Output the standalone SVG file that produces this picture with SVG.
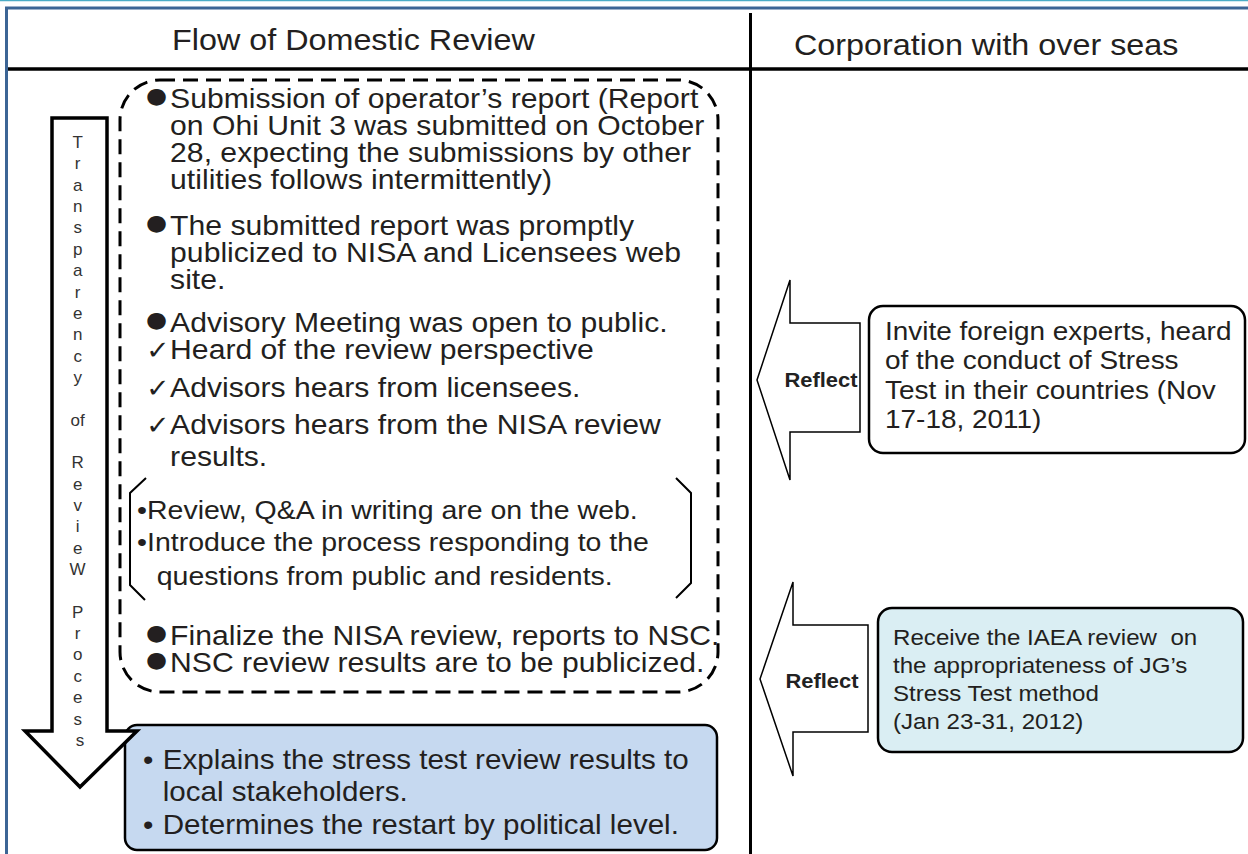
<svg xmlns="http://www.w3.org/2000/svg" width="1248" height="854" viewBox="0 0 1248 854">
<style>
  .t{font-family:"Liberation Sans",Arial,sans-serif;fill:#231f20}
  .dot{font-family:"DejaVu Sans",sans-serif;font-size:22px}
  .chk{font-family:"DejaVu Sans",sans-serif;font-size:26px}
  .hdr{font-size:29.5px}
  .body{font-size:27.5px}
  .bk{font-size:26px}
  .b1{font-size:25.5px}
  .b2{font-size:22px}
  .bot{font-size:27px}
  .vert{font-family:"Liberation Sans",Arial,sans-serif;font-size:17px;text-anchor:middle;fill:#333}
  .refl{font-family:"Liberation Sans",Arial,sans-serif;font-weight:bold;font-size:20px;text-anchor:middle;fill:#222}
  .rule{stroke:#000;stroke-width:3.5;fill:none}
  .dash{fill:none;stroke:#000;stroke-width:3;stroke-dasharray:15 8}
  .blk{fill:#fff;stroke:#000;stroke-width:1.5;stroke-linejoin:miter}
  .box{stroke:#000;stroke-width:2.5}
</style>

<!-- frame -->
<g id="frame">
  <rect x="0" y="0" width="1248" height="854" fill="#fff"/>
  <line x1="0" y1="0.5" x2="1248" y2="0.5" stroke="#4bacc6" stroke-width="1.5"/>
  <path d="M6.5,854 V8 H1248" fill="none" stroke="#3c6595" stroke-width="3"/>
  <line class="rule" x1="8" y1="69" x2="1248" y2="69"/>
  <line x1="750.5" y1="13" x2="750.5" y2="854" stroke="#000" stroke-width="3"/>
</g>

<g id="headers">
  <text class="t hdr" transform="translate(172,50) scale(1.096 1)">Flow of Domestic Review</text>
  <text class="t hdr" transform="translate(794,55) scale(1.096 1)">Corporation with over seas</text>
</g>

<!-- dashed review box -->
<g id="review-box">
  <rect class="dash" x="120" y="80" width="598" height="612" rx="40" ry="40"/>
  <text class="t body" transform="translate(146,108) scale(1.096 1)">
    <tspan class="dot" x="0" y="-5">●</tspan><tspan x="22" y="0">Submission of operator’s report (Report</tspan>
    <tspan x="22" y="27">on Ohi Unit 3 was submitted on October</tspan>
    <tspan x="22" y="54">28, expecting the submissions by other</tspan>
    <tspan x="22" y="81">utilities follows intermittently)</tspan>
  </text>
  <text class="t body" transform="translate(146,235) scale(1.096 1)">
    <tspan class="dot" x="0" y="-5">●</tspan><tspan x="22" y="0">The submitted report was promptly</tspan>
    <tspan x="22" y="27">publicized to NISA and Licensees web</tspan>
    <tspan x="22" y="54">site.</tspan>
  </text>
  <text class="t body" transform="translate(146,332) scale(1.096 1)">
    <tspan class="dot" x="0" y="-5">●</tspan><tspan x="22" y="0">Advisory Meeting was open to public.</tspan>
    <tspan class="chk" x="0" y="27">✓</tspan><tspan x="22" y="27">Heard of the review perspective</tspan>
    <tspan class="chk" x="0" y="65">✓</tspan><tspan x="22" y="65">Advisors hears from licensees.</tspan>
    <tspan class="chk" x="0" y="102">✓</tspan><tspan x="22" y="102">Advisors hears from the NISA review</tspan>
    <tspan x="22" y="134">results.</tspan>
  </text>
  <g id="web-bracket">
    <path d="M146,478 L130,493 V585 L145,600 M676,478 L691,493 V583 L676,598" fill="none" stroke="#000" stroke-width="2"/>
    <text class="t bk" transform="translate(137,519) scale(1.096 1)">
      <tspan x="0" y="0">•Review, Q&amp;A in writing are on the web.</tspan>
      <tspan x="0" y="32">•Introduce the process responding to the</tspan>
      <tspan x="18" y="66">questions from public and residents.</tspan>
    </text>
  </g>
  <text class="t body" transform="translate(146,645) scale(1.096 1)">
    <tspan class="dot" x="0" y="-5">●</tspan><tspan x="22" y="0">Finalize the NISA review, reports to NSC.</tspan>
    <tspan class="dot" x="0" y="22">●</tspan><tspan x="22" y="27">NSC review results are to be publicized.</tspan>
  </text>
</g>

<!-- political level box -->
<g id="political-box">
  <rect class="box" x="125" y="725" width="592" height="125" rx="12" ry="12" fill="#c6d9f0"/>
  <text class="t bot" transform="translate(143,769) scale(1.096 1)">
    <tspan x="0" y="0">•</tspan><tspan x="18" y="0">Explains the stress test review results to</tspan>
    <tspan x="18" y="32">local stakeholders.</tspan>
    <tspan x="0" y="65">•</tspan><tspan x="18" y="65">Determines the restart by political level.</tspan>
  </text>
</g>

<!-- transparency arrow -->
<g id="transparency-arrow">
  <path d="M52,118 H107 V731 H137 L80,787 L25,731 H52 Z" fill="#fff" stroke="#000" stroke-width="3.5" stroke-linejoin="miter"/>
  <text class="vert">
    <tspan x="80" y="148">T</tspan>
    <tspan x="80" y="169.4">r</tspan>
    <tspan x="80" y="190.7">a</tspan>
    <tspan x="80" y="212.1">n</tspan>
    <tspan x="80" y="233.4">s</tspan>
    <tspan x="80" y="254.8">p</tspan>
    <tspan x="80" y="276.1">a</tspan>
    <tspan x="80" y="297.5">r</tspan>
    <tspan x="80" y="318.8">e</tspan>
    <tspan x="80" y="340.2">n</tspan>
    <tspan x="80" y="361.5">c</tspan>
    <tspan x="80" y="382.9">y</tspan>
    <tspan x="80" y="425.6">of</tspan>
    <tspan x="80" y="468.3">R</tspan>
    <tspan x="80" y="489.6">e</tspan>
    <tspan x="80" y="511">v</tspan>
    <tspan x="80" y="532.3">i</tspan>
    <tspan x="80" y="553.7">e</tspan>
    <tspan x="80" y="575">W</tspan>
    <tspan x="80" y="617.7">P</tspan>
    <tspan x="80" y="639.1">r</tspan>
    <tspan x="80" y="660.4">o</tspan>
    <tspan x="80" y="681.8">c</tspan>
    <tspan x="80" y="703.1">e</tspan>
    <tspan x="80" y="724.5">s</tspan>
    <tspan x="80" y="745.8">s</tspan>
  </text>
</g>

<!-- overseas boxes -->
<g id="foreign-experts">
  <rect class="box" x="869" y="306" width="376" height="147" rx="14" ry="14" fill="#fff"/>
  <text class="t b1" transform="translate(885,340) scale(1.096 1)">
    <tspan x="0" y="0">Invite foreign experts, heard</tspan>
    <tspan x="0" y="29.5">of the conduct of Stress</tspan>
    <tspan x="0" y="59">Test in their countries (Nov</tspan>
    <tspan x="0" y="88.5">17-18, 2011)</tspan>
  </text>
</g>
<g id="iaea-review">
  <rect class="box" x="878" y="608" width="365" height="144" rx="14" ry="14" fill="#daeef3"/>
  <text class="t b2" transform="translate(893,645) scale(1.096 1)">
    <tspan x="0" y="0" style="white-space:pre">Receive the IAEA review  on</tspan>
    <tspan x="0" y="28">the appropriateness of JG’s</tspan>
    <tspan x="0" y="56">Stress Test method</tspan>
    <tspan x="0" y="84">(Jan 23-31, 2012)</tspan>
  </text>
</g>

<!-- connectors: reflect block arrows -->
<g id="connectors">
  <g id="reflect-1">
    <path class="blk" d="M757,380 L790,280 V323 H860 V432 H790 V480 Z"/>
    <text class="refl" transform="translate(821,387) scale(1.096 1)">Reflect</text>
  </g>
  <g id="reflect-2">
    <path class="blk" d="M760,679 L793,582 V625 H868 V732 H793 V776 Z"/>
    <text class="refl" transform="translate(822,688) scale(1.096 1)">Reflect</text>
  </g>
</g>
</svg>
